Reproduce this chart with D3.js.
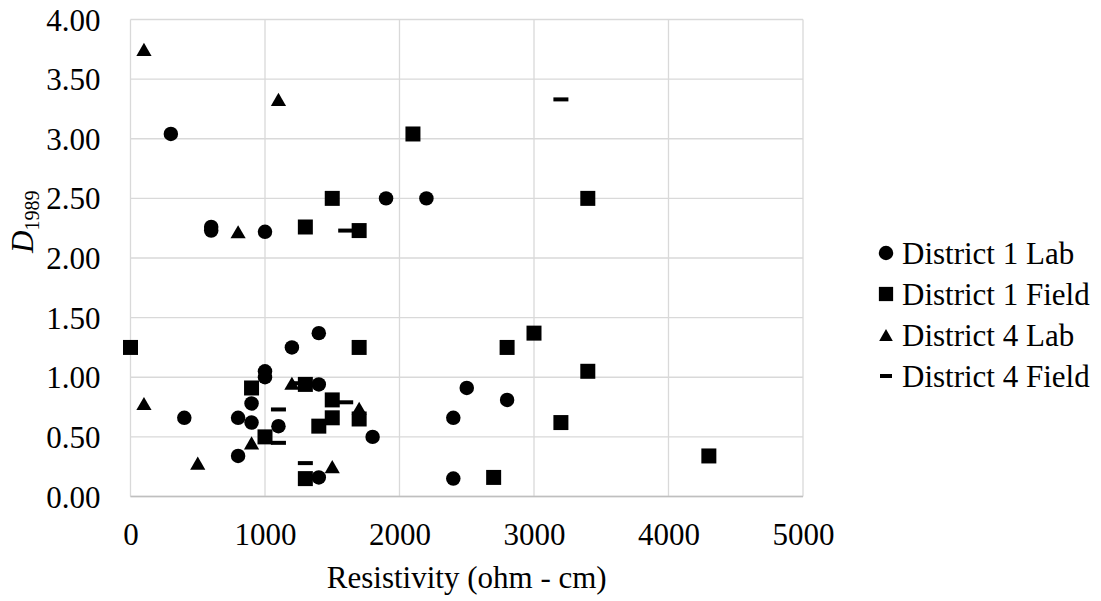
<!DOCTYPE html>
<html>
<head>
<meta charset="utf-8">
<script src="https://cdn.jsdelivr.net/npm/d3@7/dist/d3.min.js"></script>
<style>
  html, body { margin: 0; padding: 0; background: #fff; }
</style>
</head>
<body>
<svg id="chart" width="1101" height="601"></svg>
<script>
// Resistivity (ohm-cm) vs. D1989, by district and test type
const d1LabX   = [300, 600, 600, 1000, 1900, 2200, 1400, 1200, 1000, 1000, 1400, 1800, 400, 800, 900, 900, 1100, 800, 1400, 2500, 2800, 2400, 2400];
const d1LabY   = [3.04, 2.26, 2.23, 2.22, 2.50, 2.50, 1.37, 1.25, 1.05, 1.00, 0.94, 0.50, 0.66, 0.66, 0.78, 0.62, 0.59, 0.34, 0.16, 0.91, 0.81, 0.66, 0.15];

const d1FieldX = [2100, 1500, 3400, 1300, 1700, 0, 1700, 900, 1300, 1500, 1500, 1700, 1400, 1000, 1300, 3000, 2800, 3400, 3200, 2700, 4300];
const d1FieldY = [3.04, 2.50, 2.50, 2.26, 2.23, 1.25, 1.25, 0.91, 0.94, 0.81, 0.66, 0.65, 0.59, 0.50, 0.15, 1.37, 1.25, 1.05, 0.62, 0.16, 0.34];

const d4LabX   = [100, 1100, 800, 1200, 100, 1700, 900, 500, 1500];
const d4LabY   = [3.75, 3.33, 2.22, 0.95, 0.78, 0.74, 0.45, 0.28, 0.25];

const d4FieldX = [3200, 1600, 1250, 1600, 1100, 1100, 1300];
const d4FieldY = [3.33, 2.23, 0.95, 0.79, 0.73, 0.45, 0.28];

const seriesNames = ["District 1 Lab", "District 1 Field", "District 4 Lab", "District 4 Field"];
const xTicks = [0, 1000, 2000, 3000, 4000, 5000];
const yTicks = [0, 0.5, 1, 1.5, 2, 2.5, 3, 3.5, 4];

const series = [
  { name: seriesNames[0], shape: "circle",   xs: d1LabX,   ys: d1LabY },
  { name: seriesNames[1], shape: "square",   xs: d1FieldX, ys: d1FieldY },
  { name: seriesNames[2], shape: "triangle", xs: d4LabX,   ys: d4LabY },
  { name: seriesNames[3], shape: "dash",     xs: d4FieldX, ys: d4FieldY }
];

const FONT = '"Liberation Serif"';
const FS = "31px";
const svg = d3.select("#chart");
const plot = { left: 130.5, right: 803, top: 19.5, bottom: 496.5 };

const x = d3.scaleLinear().domain([0, 5000]).range([plot.left, plot.right]);
const y = d3.scaleLinear().domain([0, 4]).range([plot.bottom, plot.top]);

const gridColor = "#d9d9d9";

// gridlines
const grid = svg.append("g");
grid.selectAll("line.h").data(yTicks).join("line")
  .attr("x1", plot.left).attr("x2", plot.right)
  .attr("y1", d => y(d)).attr("y2", d => y(d))
  .attr("stroke", gridColor).attr("stroke-width", 1.3);
grid.selectAll("line.v").data(xTicks).join("line")
  .attr("x1", d => x(d)).attr("x2", d => x(d))
  .attr("y1", plot.top).attr("y2", plot.bottom)
  .attr("stroke", gridColor).attr("stroke-width", 1.3);
// horizontal axis line
svg.append("line")
  .attr("x1", plot.left).attr("x2", plot.right)
  .attr("y1", y(0)).attr("y2", y(0))
  .attr("stroke", "#bfbfbf").attr("stroke-width", 1.5);

function styleText(sel) {
  return sel.style("font-family", FONT).style("font-size", FS).attr("fill", "#000");
}

// axes (labels only; lines drawn with the grid)
const xAxis = d3.axisBottom(x).tickValues(xTicks).tickSize(0).tickPadding(0).tickFormat(d3.format("d"));
const gx = svg.append("g").attr("transform", `translate(0,${plot.bottom})`).call(xAxis);
gx.select(".domain").remove();
styleText(gx.selectAll("text")).attr("y", 48).attr("dy", null);

const yAxis = d3.axisLeft(y).tickValues(yTicks).tickSize(0).tickPadding(0).tickFormat(d3.format(".2f"));
const gy = svg.append("g").attr("transform", `translate(${plot.left},0)`).call(yAxis);
gy.select(".domain").remove();
styleText(gy.selectAll("text")).attr("x", -30).attr("dy", "0.34em");

// axis titles
styleText(svg.append("text"))
  .attr("x", (plot.left + plot.right) / 2).attr("y", 588)
  .attr("text-anchor", "middle")
  .text("Resistivity (ohm - cm)");

const yt = styleText(svg.append("text"))
  .attr("transform", "translate(33,253) rotate(-90)")
  .attr("text-anchor", "start");
yt.append("tspan").style("font-style", "italic").text("D");
yt.append("tspan").attr("dy", 6).style("font-size", "20px").text("1989");

// marker shapes (triangle shifted so its bounding box is centred on the point)
function marker(sel, shape, scale) {
  const k = scale || 1;
  if (shape === "circle") {
    sel.append("path").attr("d", d3.symbol(d3.symbolCircle, 165 * k * k)());
  } else if (shape === "square") {
    sel.append("path").attr("d", d3.symbol(d3.symbolSquare, 225 * k * k)());
  } else if (shape === "triangle") {
    const size = 100 * k * k;
    const off = Math.sqrt(size / (3 * Math.sqrt(3))) / 2;
    sel.append("path").attr("transform", `translate(0,${off})`)
      .attr("d", d3.symbol(d3.symbolTriangle, size)());
  } else {
    const w = 15 * k;
    sel.append("rect").attr("x", -w / 2).attr("y", -2).attr("width", w).attr("height", 4);
  }
}

const pts = svg.append("g").attr("fill", "#000");
series.forEach(s => {
  const data = s.xs.map((v, i) => ({ x: v, y: s.ys[i] }));
  pts.append("g").selectAll("g").data(data).join("g")
    .attr("transform", d => `translate(${x(d.x)},${y(d.y)})`)
    .each(function () { marker(d3.select(this), s.shape); });
});

// legend
const legend = svg.append("g").attr("fill", "#000");
const rowY = d3.scalePoint().domain(seriesNames).range([253, 376]);
const legendScale = { circle: 1, square: 0.95, triangle: 0.9, dash: 0.8 };
series.forEach(s => {
  const g = legend.append("g").attr("transform", `translate(886,${rowY(s.name)})`);
  marker(g, s.shape, legendScale[s.shape]);
  styleText(g.append("text")).attr("x", 16).attr("dy", "0.34em").text(s.name);
});
</script>
</body>
</html>
